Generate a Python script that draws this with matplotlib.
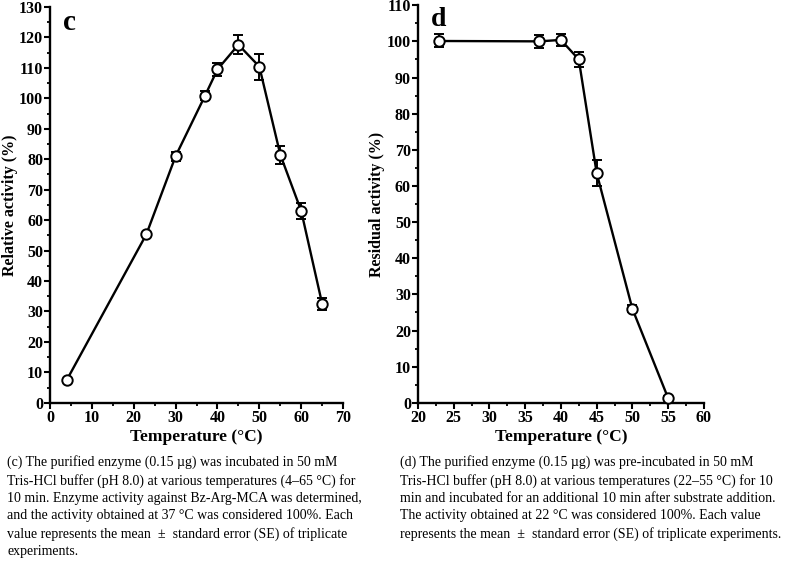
import matplotlib.pyplot as plt
from matplotlib.ticker import MultipleLocator

plt.rcParams['font.family'] = ['Liberation Serif', 'DejaVu Serif']

# panel c: temperature optimum
temp_c = [4, 23, 30, 37, 40, 45, 50, 55, 60, 65]
act_c = [7.5, 55.3, 81.0, 100.8, 109.5, 117.6, 110.4, 81.5, 63.0, 32.5]
err_c = [0.5, 0.6, 1.5, 1.5, 2.2, 3.2, 4.3, 3.0, 2.6, 2.0]

# panel d: thermal stability
temp_d = [23, 37, 40, 42.5, 45, 50, 55]
act_d = [100.1, 100.0, 100.4, 95.0, 63.6, 26.0, 1.3]
err_d = [1.8, 1.8, 1.7, 2.0, 3.5, 1.0, 0.5]

cap_c = ("(c) The purified enzyme (0.15 µg) was incubated in 50 mM\n"
         "Tris-HCl buffer (pH 8.0) at various temperatures (4–65 °C) for\n"
         "10 min. Enzyme activity against Bz-Arg-MCA was determined,\n"
         "and the activity obtained at 37 °C was considered 100%. Each\n"
         "value represents the mean  ±  standard error (SE) of triplicate\n"
         "experiments.")
cap_d = ("(d) The purified enzyme (0.15 µg) was pre-incubated in 50 mM\n"
         "Tris-HCl buffer (pH 8.0) at various temperatures (22–55 °C) for 10\n"
         "min and incubated for an additional 10 min after substrate addition.\n"
         "The activity obtained at 22 °C was considered 100%. Each value\n"
         "represents the mean  ±  standard error (SE) of triplicate experiments.")

fig = plt.figure(figsize=(7.9, 5.78), dpi=100)
ax1 = fig.add_axes([0.0633, 0.303, 0.371, 0.685])
ax2 = fig.add_axes([0.529, 0.303, 0.362, 0.688])


def style(ax):
    for s in ['top', 'right']:
        ax.spines[s].set_visible(False)
    for s in ['left', 'bottom']:
        ax.spines[s].set_linewidth(1.7)
    ax.tick_params(which='major', direction='out', length=4.5, width=1.5, labelsize=11.5, pad=0.5)
    ax.tick_params(which='minor', direction='out', length=2.5, width=1.3)
    for lab in ax.get_xticklabels() + ax.get_yticklabels():
        lab.set_fontweight('bold')


def draw(ax, x, y, e):
    ax.errorbar(x, y, yerr=e, color='black', lw=1.7, elinewidth=1.4, capsize=3.5, capthick=1.4,
                marker='o', markersize=7.5, markerfacecolor='white', markeredgecolor='black',
                markeredgewidth=1.4, clip_on=False, zorder=3)


draw(ax1, temp_c, act_c, err_c)
ax1.set_xlim(0, 70)
ax1.set_ylim(0, 130)
ax1.xaxis.set_major_locator(MultipleLocator(10))
ax1.xaxis.set_minor_locator(MultipleLocator(5))
ax1.yaxis.set_major_locator(MultipleLocator(10))
ax1.yaxis.set_minor_locator(MultipleLocator(5))
style(ax1)
ax1.set_xlabel('Temperature (°C)', fontsize=12.5, fontweight='bold', labelpad=2)
ax1.set_ylabel('Relative activity (%)', fontsize=11.5, fontweight='bold', labelpad=1)
ax1.text(0.045, 0.995, 'c', transform=ax1.transAxes, fontsize=21, fontweight='bold', va='top')

draw(ax2, temp_d, act_d, err_d)
ax2.set_xlim(20, 60)
ax2.set_ylim(0, 110)
ax2.xaxis.set_major_locator(MultipleLocator(5))
ax2.xaxis.set_minor_locator(MultipleLocator(2.5))
ax2.yaxis.set_major_locator(MultipleLocator(10))
ax2.yaxis.set_minor_locator(MultipleLocator(5))
style(ax2)
ax2.set_xlabel('Temperature (°C)', fontsize=12.5, fontweight='bold', labelpad=2)
ax2.set_ylabel('Residual activity (%)', fontsize=11.5, fontweight='bold', labelpad=1)
ax2.text(0.045, 0.995, 'd', transform=ax2.transAxes, fontsize=20, fontweight='bold', va='top')

fig.text(0.009, 0.212, cap_c, fontsize=10, va='top', linespacing=1.42)
fig.text(0.506, 0.212, cap_d, fontsize=10, va='top', linespacing=1.42)

fig.savefig('out.png', dpi=100)
